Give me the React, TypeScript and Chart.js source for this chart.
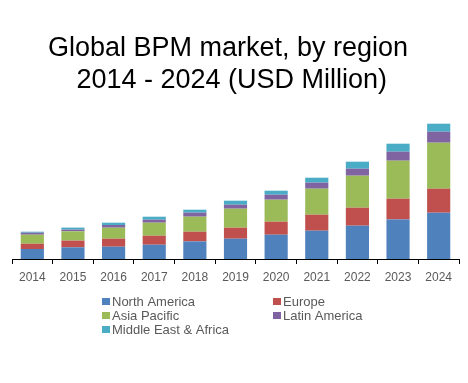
import React, { useEffect, useRef } from "react";
import { Chart, registerables } from "chart.js";

Chart.register(...registerables);

const years = ["2014", "2015", "2016", "2017", "2018", "2019", "2020", "2021", "2022", "2023", "2024"];
const northAmerica = [10, 11.7, 12.3, 14.3, 17.6, 20.3, 24.3, 28.3, 33.3, 39.6, 46.3];
const europe = [5.3, 6.7, 8, 9, 9.7, 11, 13, 16, 18, 20.7, 24];
const asiaPacific = [9, 9.3, 11, 13, 15, 19, 22, 26, 32, 38, 46];
const latinAmerica = [2, 1.7, 2.7, 3, 4, 4, 5, 6, 7, 9, 11];
const middleEastAfrica = [1, 2, 2.3, 3, 3, 4, 4, 5, 7, 8, 8];

const seriesNames = ["North America", "Europe", "Asia Pacific", "Latin America", "Middle East & Africa"];
const seriesColors = ["#4F81BD", "#C0504D", "#9BBB59", "#8064A2", "#4BACC6"];
const seriesData = [northAmerica, europe, asiaPacific, latinAmerica, middleEastAfrica];

const FONT = "'Liberation Sans', Arial, sans-serif";

export default function App() {
  const ref = useRef<HTMLCanvasElement>(null);

  useEffect(() => {
    const legendPlugin = {
      id: "customLegend",
      afterDraw(chart: any) {
        const ctx = chart.ctx as CanvasRenderingContext2D;
        ctx.save();
        ctx.font = `13px ${FONT}`;
        ctx.textBaseline = "alphabetic";
        ctx.textAlign = "left";
        chart.data.datasets.forEach((ds: any, i: number) => {
          const col = i % 2;
          const row = Math.floor(i / 2);
          const sx = col === 0 ? 102 : 273;
          const sy = 298 + row * 14;
          ctx.fillStyle = ds.backgroundColor;
          ctx.fillRect(sx, sy, 8, 7);
          ctx.fillStyle = "#595959";
          ctx.fillText(ds.label, sx + 10, sy + 7.5);
        });
        ctx.restore();
      },
    };

    const chart = new Chart(ref.current!, {
      type: "bar",
      data: {
        labels: years,
        datasets: seriesNames.map((name, i) => ({
          label: name,
          data: seriesData[i],
          backgroundColor: seriesColors[i],
          borderWidth: 0,
          barPercentage: 0.57,
          categoryPercentage: 1,
        })),
      },
      options: {
        animation: false,
        responsive: false,
        layout: { padding: { left: 12, right: 9, top: 0, bottom: 94 } },
        plugins: {
          legend: { display: false },
          tooltip: { enabled: false },
          title: {
            display: true,
            text: ["Global BPM market, by region  ", "2014 - 2024 (USD Million) "],
            color: "#000",
            font: { family: FONT, size: 27, weight: "normal", lineHeight: 1.185 },
            padding: { top: 33, bottom: 12 },
          },
        },
        scales: {
          x: {
            stacked: true,
            grid: { offset: true, drawOnChartArea: false, color: "#000", tickLength: 5, lineWidth: 1 },
            border: { color: "#000", width: 1 },
            ticks: { color: "#595959", font: { family: FONT, size: 12 }, padding: 6, maxRotation: 0 },
            afterFit: (s: any) => {
              s.height = 30;
            },
          },
          y: { stacked: true, display: false, min: 0, max: 150 },
        },
      } as any,
      plugins: [legendPlugin],
    });
    return () => chart.destroy();
  }, []);

  return (
    <div style={{ position: "absolute", left: 0, top: 0, width: 468, height: 383 }}>
      <canvas ref={ref} width={468} height={383} style={{ width: 468, height: 383 }} />
    </div>
  );
}
